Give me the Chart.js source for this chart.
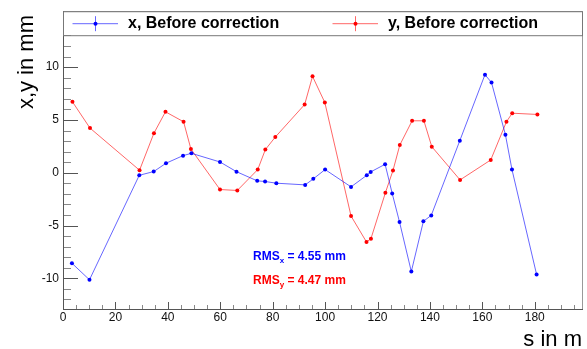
<!DOCTYPE html>
<html>
<head>
<meta charset="utf-8">
<script src="https://cdn.jsdelivr.net/npm/chart.js@4/dist/chart.umd.min.js"></script>
<style>
    body { margin: 0; background: #fff; }
    canvas { display: block; }
</style>
</head>
<body>
<canvas id="orbitChart" width="587" height="349"></canvas>
<script>
// Positions (m) and readings (mm) before correction
const sPosX = [3.4, 10.1, 29.1, 34.6, 39.3, 45.8, 49.0, 59.9, 66.2, 74.1, 77.1, 81.4, 92.4, 95.5, 100.0,
    109.9, 115.9, 117.4, 122.9, 125.6, 128.4, 132.9, 137.5, 140.5, 151.4, 161.0, 163.5, 168.8, 171.3, 180.7];
const xBefore = [-8.57, -10.14, -0.24, 0.11, 0.90, 1.62, 1.84, 1.02, 0.10, -0.77, -0.83, -0.99, -1.15, -0.58, 0.30,
    -1.34, -0.24, 0.08, 0.80, -1.96, -4.67, -9.36, -4.60, -4.04, 3.04, 9.29, 8.54, 3.60, 0.30, -9.64];

const sPosY = [3.6, 10.3, 29.2, 34.7, 39.1, 46.0, 48.8, 59.9, 66.5, 74.3, 77.2, 81.0, 92.2, 95.2, 99.9,
    109.9, 115.8, 117.5, 123.0, 125.9, 128.5, 133.2, 137.7, 140.7, 151.5, 163.2, 169.2, 171.4, 181.0];
const yBefore = [6.72, 4.23, 0.24, 3.75, 5.77, 4.83, 2.25, -1.59, -1.68, 0.30, 2.19, 3.38, 6.46, 9.13, 6.65,
    -4.10, -6.56, -6.24, -1.90, 0.21, 2.62, 4.92, 4.92, 2.47, -0.68, 1.21, 4.83, 5.64, 5.52];

const seriesLabels = ['x, Before correction', 'y, Before correction'];
const rmsValues = ['4.55', '4.47'];
const rmsSubs = ['x', 'y'];

// Axis ticks
const xMajorTicks = [0, 20, 40, 60, 80, 100, 120, 140, 160, 180];
const xMinorTicks = [5, 10, 15, 25, 30, 35, 45, 50, 55, 65, 70, 75, 85, 90, 95, 105, 110, 115,
    125, 130, 135, 145, 150, 155, 165, 170, 175, 185, 190, 195];
const yMajorTicks = [-10, -5, 0, 5, 10];
const yMinorTicks = [-13, -12, -11, -9, -8, -7, -6, -4, -3, -2, -1, 1, 2, 3, 4, 6, 7, 8, 9, 11, 12, 13, 14, 15];

const blue = '#0000ff';
const red = '#ff0000';
const blueLine = 'rgba(0, 0, 255, 0.6)';
const redLine = 'rgba(255, 0, 0, 0.6)';
const FONT = '"Liberation Sans", Arial, Helvetica, sans-serif';

function toPoints(xs, ys) {
    return xs.map((s, i) => ({ x: s, y: ys[i] }));
}

// Frame, inner ticks, titles, legend and RMS text
const rootStylePlugin = {
    id: 'rootStyle',
    beforeDatasetsDraw(chart) {
        const ctx = chart.ctx;
        const area = chart.chartArea;
        const xs = chart.scales.x;
        const ys = chart.scales.y;
        ctx.save();
        ctx.lineWidth = 1;

        // y ticks point into the frame
        const drawY = (list, len, color) => {
            ctx.strokeStyle = color;
            list.forEach(v => {
                const py = Math.round(ys.getPixelForValue(v)) + 0.5;
                if (py < area.top || py > area.bottom) return;
                ctx.beginPath();
                ctx.moveTo(area.left, py);
                ctx.lineTo(area.left + len, py);
                ctx.stroke();
            });
        };
        drawY(yMajorTicks, 15, '#555');
        drawY(yMinorTicks, 8, '#888');

        const drawX = (list, len, color) => {
            ctx.strokeStyle = color;
            list.forEach(v => {
                const px = Math.round(xs.getPixelForValue(v)) + 0.5;
                ctx.beginPath();
                ctx.moveTo(px, area.bottom);
                ctx.lineTo(px, area.bottom - len);
                ctx.stroke();
            });
        };
        drawX(xMajorTicks, 8, '#555');
        drawX(xMinorTicks, 5, '#888');
        ctx.restore();
    },
    afterDraw(chart) {
        const ctx = chart.ctx;
        const area = chart.chartArea;
        const xs = chart.scales.x;
        const ys = chart.scales.y;
        ctx.save();

        // Frame
        ctx.lineWidth = 1;
        ctx.strokeStyle = '#999';
        ctx.beginPath();
        ctx.moveTo(area.left, area.top + 0.5);
        ctx.lineTo(area.right - 0.5, area.top + 0.5);
        ctx.lineTo(area.right - 0.5, area.bottom);
        ctx.stroke();
        ctx.strokeStyle = '#555';
        ctx.beginPath();
        ctx.moveTo(area.left + 0.5, area.top);
        ctx.lineTo(area.left + 0.5, area.bottom - 0.5);
        ctx.lineTo(area.right, area.bottom - 0.5);
        ctx.stroke();

        // Legend box across the top of the frame
        const legTop = area.top;
        const legBottom = area.top + 24;
        ctx.fillStyle = '#fff';
        ctx.fillRect(area.left + 1, legTop + 1, area.right - area.left - 2, legBottom - legTop - 1);
        ctx.strokeStyle = '#777';
        ctx.strokeRect(area.left + 0.5, legTop + 0.5, area.right - area.left - 1, legBottom - legTop);

        const colW = (area.right - area.left) / 2;
        const midY = (legTop + legBottom) / 2 + 0.5;
        chart.data.datasets.forEach((ds, i) => {
            const x0 = area.left + i * colW;
            ctx.strokeStyle = ds.borderColor;
            ctx.beginPath();
            ctx.moveTo(x0 + 9.5, midY);
            ctx.lineTo(x0 + 55, midY);
            ctx.moveTo(x0 + 32.5, midY - 7.5);
            ctx.lineTo(x0 + 32.5, midY + 7.5);
            ctx.stroke();
            ctx.fillStyle = ds.pointBackgroundColor;
            ctx.beginPath();
            ctx.arc(x0 + 32.5, midY, 2, 0, Math.PI * 2);
            ctx.fill();
            ctx.fillStyle = '#000';
            ctx.font = 'bold 16px ' + FONT;
            ctx.textAlign = 'left';
            ctx.textBaseline = 'middle';
            ctx.fillText(ds.label, x0 + 65, midY);
        });

        // Axis titles
        ctx.fillStyle = '#000';
        ctx.font = '22px ' + FONT;
        ctx.textAlign = 'right';
        ctx.textBaseline = 'alphabetic';
        ctx.fillText('s in m', 582, 346);
        ctx.save();
        ctx.translate(33, 15);
        ctx.rotate(-Math.PI / 2);
        ctx.fillText('x,y in mm', 0, 0);
        ctx.restore();

        // RMS labels
        const rmsColors = [blue, red];
        const rmsPos = [-7.95, -10.2];
        rmsValues.forEach((val, i) => {
            let px = xs.getPixelForValue(72.5);
            const py = ys.getPixelForValue(rmsPos[i]);
            ctx.fillStyle = rmsColors[i];
            ctx.textAlign = 'left';
            ctx.textBaseline = 'middle';
            ctx.font = 'bold 12px ' + FONT;
            ctx.fillText('RMS', px, py);
            px += ctx.measureText('RMS').width;
            ctx.font = 'bold 8px ' + FONT;
            ctx.fillText(rmsSubs[i], px, py + 4);
            px += ctx.measureText(rmsSubs[i]).width;
            ctx.font = 'bold 12px ' + FONT;
            ctx.fillText(' = ' + val + ' mm', px, py);
        });
        ctx.restore();
    }
};

new Chart(document.getElementById('orbitChart'), {
    type: 'scatter',
    data: {
        datasets: [{
            label: seriesLabels[0],
            data: toPoints(sPosX, xBefore),
            showLine: true,
            borderColor: blueLine,
            borderWidth: 1,
            pointBackgroundColor: blue,
            pointBorderWidth: 0,
            pointRadius: 2
        }, {
            label: seriesLabels[1],
            data: toPoints(sPosY, yBefore),
            showLine: true,
            borderColor: redLine,
            borderWidth: 1,
            pointBackgroundColor: red,
            pointBorderWidth: 0,
            pointRadius: 2
        }]
    },
    options: {
        responsive: false,
        animation: false,
        devicePixelRatio: 1,
        layout: {
            padding: { left: 0, top: 10, right: 1, bottom: 0 }
        },
        plugins: {
            legend: { display: false },
            tooltip: { enabled: false }
        },
        scales: {
            x: {
                type: 'linear',
                min: 0,
                max: 198.4,
                grid: { display: false, drawTicks: false },
                border: { display: false },
                afterBuildTicks: s => { s.ticks = xMajorTicks.map(v => ({ value: v })); },
                afterFit: s => { s.height = 39; },
                ticks: {
                    padding: 0,
                    color: '#111',
                    maxRotation: 0,
                    autoSkip: false,
                    font: { family: FONT, size: 12 }
                }
            },
            y: {
                type: 'linear',
                min: -13,
                max: 15.3,
                grid: { display: false, drawTicks: false },
                border: { display: false },
                afterBuildTicks: s => { s.ticks = yMajorTicks.map(v => ({ value: v })); },
                afterFit: s => { s.width = 63; },
                ticks: {
                    padding: 4,
                    color: '#111',
                    autoSkip: false,
                    font: { family: FONT, size: 12 }
                }
            }
        }
    },
    plugins: [rootStylePlugin]
});
</script>
</body>
</html>
